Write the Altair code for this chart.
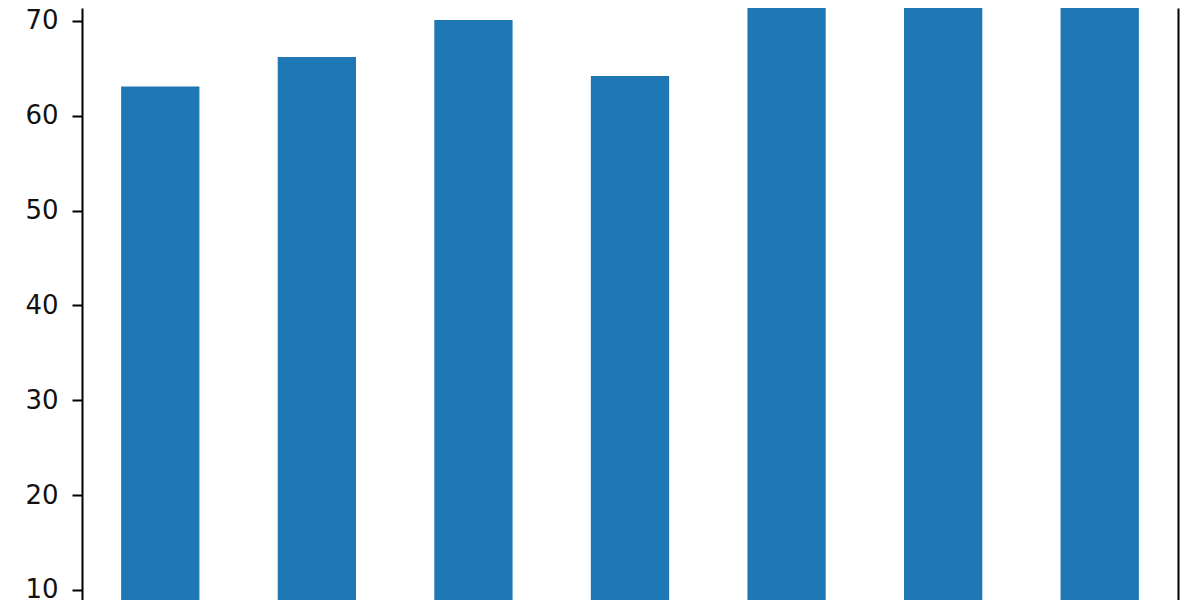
import altair as alt
import pandas as pd

categories = ["A", "B", "C", "D", "E", "F", "G"]
values = [63.1, 66.2, 70.1, 64.2, 76.0, 79.0, 82.0]
tick_values = [10, 20, 30, 40, 50, 60, 70]

df = pd.DataFrame({"cat": categories, "value": values})

y_domain = [8.945, 71.37]

x_enc = alt.X("cat:N", sort=None,
              scale=alt.Scale(paddingInner=0.5, paddingOuter=0.25),
              axis=None)

bars = alt.Chart(df).mark_bar(color="#1f77b4", clip=True, strokeWidth=0).encode(
    x=x_enc,
    y=alt.Y("value:Q",
            scale=alt.Scale(domain=y_domain, zero=False, nice=False),
            axis=alt.Axis(values=tick_values, orient="left", grid=False,
                          domain=True,
                          domainColor="black", domainWidth=2,
                          tickColor="black", tickWidth=2, tickSize=10,
                          labelFont="DejaVu Sans", labelFontSize=26,
                          labelColor="#111111", labelPadding=14,
                          title=None)),
)

right_spine = alt.Chart(df).mark_bar(opacity=0, clip=True, strokeWidth=0).encode(
    x=x_enc,
    y=alt.Y("value:Q",
            scale=alt.Scale(domain=y_domain, zero=False, nice=False),
            axis=alt.Axis(orient="right", grid=False, labels=False, ticks=False,
                          domain=True,
                          domainColor="black", domainWidth=2, title=None)),
)

chart = alt.layer(bars, right_spine).resolve_scale(y="independent").properties(
    width=1096,
    height=592,
    background="white",
    autosize=alt.AutoSizeParams(type="none"),
    padding={"left": 74, "top": 0, "right": 8, "bottom": 0},
).configure_view(stroke=None).configure_axis(grid=False, domainCap="butt")

chart.save("out.html", embed_options={"renderer": "svg", "actions": False})
